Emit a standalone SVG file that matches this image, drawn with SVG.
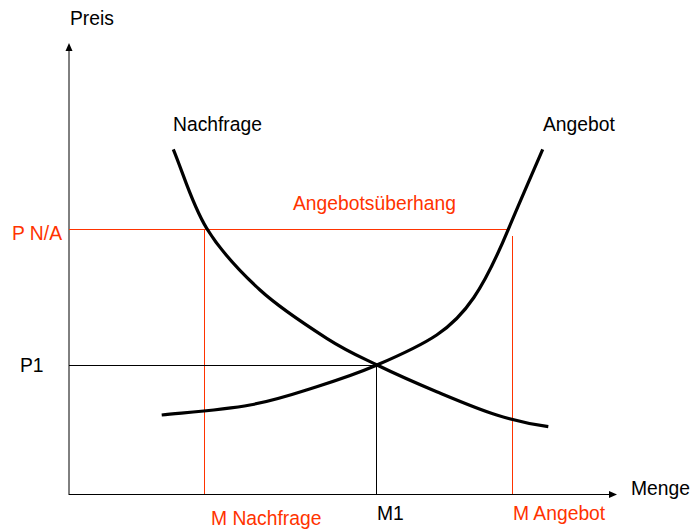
<svg xmlns="http://www.w3.org/2000/svg" width="693" height="532" viewBox="0 0 693 532">
<defs>
<style>
text{font-family:"Liberation Sans",Arial,sans-serif;font-size:19.3px;fill:#000}
.red{fill:#ff3300}
.rl{stroke:#ff3300;stroke-width:1;fill:none}
.bl{stroke:#000;stroke-width:1;fill:none}
.curve{stroke:#000;stroke-width:3.2;fill:none;stroke-linecap:butt}
</style>
</defs>
<rect width="693" height="532" fill="#fff"/>
<g id="axes">
<line x1="69" y1="495" x2="69" y2="48" stroke="#000" stroke-width="1"/>
<polygon points="69,43 65.5,51 72.5,51" fill="#000"/>
<line x1="69" y1="494.5" x2="611" y2="494.5" stroke="#000" stroke-width="1"/>
<polygon points="617,494.5 609,491 609,498" fill="#000"/>
</g>
<g id="guides">
<line class="rl" x1="69" y1="229.5" x2="508" y2="229.5"/>
<line class="rl" x1="204.5" y1="229" x2="204.5" y2="494"/>
<line class="rl" x1="512.5" y1="236" x2="512.5" y2="494"/>
<line class="bl" x1="69" y1="365.5" x2="378" y2="365.5"/>
<line class="bl" x1="376.5" y1="365" x2="376.5" y2="494"/>
</g>
<g id="nachfrage">
<path class="curve" d="M173.3,149.3 C184.2,175.8 192.25,204.85 206.7,228.3 C221.15,251.75 240,271.67 260,290 C280,308.33 307.2,325.8 326.7,338.3 C346.2,350.8 358.67,356.1 377,365 C395.33,373.9 416.75,383.37 436.7,391.7 C456.65,400.03 478.1,409.17 496.7,415 C515.3,420.83 530.8,424.1 548.3,426.7"/>
</g>
<g id="angebot">
<path class="curve" d="M161.7,415 C191.2,412.1 224.17,409.72 250,405 C275.83,400.28 295.5,393.37 316.7,386.7 C337.87,380.03 357,373.62 377,365 C397,356.38 418.7,347.1 436.7,335 C465.35,315.8 483.25,289.4 508.3,229.3 C519.5,202.5 531.2,176 542.7,149.3"/>
</g>
<g id="labels">
<text x="70" y="25">Preis</text>
<text x="631" y="495">Menge</text>
<text x="173" y="131">Nachfrage</text>
<text x="543" y="131">Angebot</text>
<text class="red" x="293" y="210">Angebotsüberhang</text>
<text class="red" x="12" y="240">P N/A</text>
<text x="20" y="372">P1</text>
<text class="red" x="211" y="525">M Nachfrage</text>
<text x="377" y="520">M1</text>
<text class="red" x="513" y="520">M Angebot</text>
</g>
</svg>
